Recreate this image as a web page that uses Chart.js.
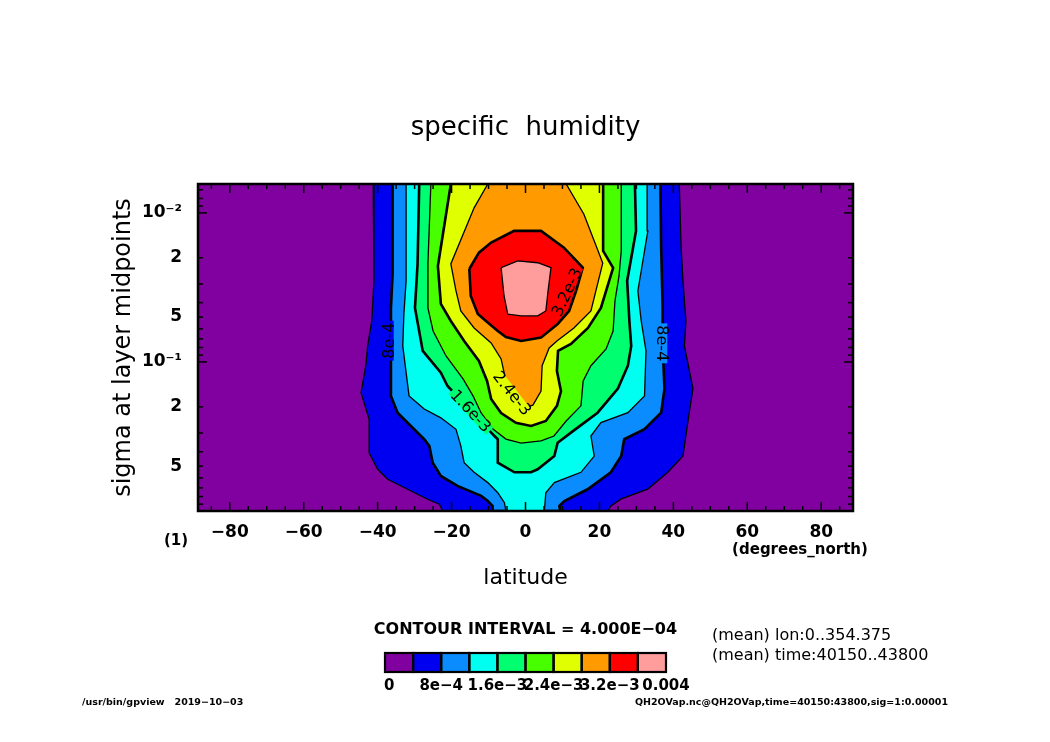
<!DOCTYPE html>
<html lang="en">
<head>
<meta charset="UTF-8">
<title>specific humidity</title>
<script src="https://cdn.jsdelivr.net/npm/chart.js@4.4.0/dist/chart.umd.min.js"></script>
<style>
    * { margin: 0; padding: 0; box-sizing: border-box; }
    body { background: #fff; }
    #wrap { width: 1050px; height: 742px; }
</style>
</head>
<body>
<div id="wrap"><canvas id="chart" width="1050" height="742"></canvas></div>
<script>
// contour levels (kg/kg) and shading, lowest first
const levels = [0, 4e-4, 8e-4, 1.2e-3, 1.6e-3, 2.0e-3, 2.4e-3, 2.8e-3, 3.2e-3, 3.6e-3, 4.0e-3];
const shades = ['#8000a0', '#0000f0', '#0a8cff', '#00fff0', '#00ff70', '#48ff00', '#e0ff00', '#ff9a00', '#ff0000', '#ff9c9c'];
const barLabels = ['0', '8e-4', '1.6e-3', '2.4e-3', '3.2e-3', '0.004'];

// axes
const latRange = [-88.6, 88.6];
const sigRange = [0.0064, 1.0];
const xTicks = [-80, -60, -40, -20, 0, 20, 40, 60, 80];
const yTicks = [0.01, 0.02, 0.05, 0.1, 0.2, 0.5];
const yTickLabels = ['10\u207B\u00B2', '2', '5', '10\u207B\u00B9', '2', '5'];

// contour 4e-4 (lat, sigma), left side top->bottom then right side bottom->top
const c1Lat = [-41.2, -41.0, -41.6, -42.7, -43.2, -44.5, -42.3, -42.3, -40.0, -37.3, -31.9, -26.5, -23.3, -22.4,
               22.3, 23.1, 25.9, 33.1, 38.5, 42.6, 43.9, 45.3, 43.0, 43.4, 42.6, 42.1, 41.6];
const c1Sig = [0.0064, 0.0286, 0.053, 0.078, 0.106, 0.161, 0.243, 0.407, 0.525, 0.612, 0.715, 0.834, 0.90, 1.0,
               1.0, 0.925, 0.83, 0.713, 0.55, 0.428, 0.255, 0.151, 0.078, 0.053, 0.0286, 0.0171, 0.0064];
// contour 8e-4
const c2Lat = [-35.95, -35.95, -36.4, -36.4, -36.4, -34.6, -31.0, -27.4, -26.0, -25.1, -22.9, -18.4, -12.0, -10.2, -8.9, -8.9,
               9.4, 9.15, 10.5, 16.8, 23.1, 25.9, 26.7, 32.2, 36.7, 37.6, 37.1, 37.1, 36.7, 36.5];
const c2Sig = [0.0064, 0.0256, 0.0434, 0.118, 0.169, 0.219, 0.269, 0.33, 0.366, 0.474, 0.582, 0.679, 0.792, 0.857, 0.925, 1.0,
               1.0, 0.925, 0.857, 0.715, 0.55, 0.428, 0.33, 0.283, 0.219, 0.151, 0.078, 0.043, 0.0171, 0.0064];
// contour 1.2e-3
const c3Lat = [-32.3, -32.3, -32.9, -33.2, -31.5, -27.4, -22.9, -18.8, -17.5, -16.6, -13.9, -10.2, -7.5, -5.7, -5.3,
               5.1, 5.5, 7.8, 15.0, 18.6, 17.7, 20.4, 27.7, 32.2, 32.6, 31.3, 30.4, 33.1, 32.9];
const c3Sig = [0.0064, 0.0286, 0.0477, 0.078, 0.169, 0.207, 0.237, 0.283, 0.366, 0.474, 0.55, 0.645, 0.754, 0.879, 1.0,
               1.0, 0.754, 0.645, 0.55, 0.428, 0.314, 0.255, 0.219, 0.169, 0.0843, 0.053, 0.0334, 0.0132, 0.0064];
// contour 1.6e-3
const c4Lat = [-28.75, -29.2, -29.9, -27.8, -22.9, -21.1, -8.4, -7.5, -7.5, -3.0, 1.5, 3.3, 7.8, 8.7, 12.3, 19.5, 25.0, 27.7, 28.6, 28.1, 27.5, 29.9, 29.6];
const c4Sig = [0.0064, 0.022, 0.0434, 0.0843, 0.118, 0.145, 0.314, 0.33, 0.474, 0.55, 0.55, 0.525, 0.428, 0.348, 0.298, 0.219, 0.151, 0.106, 0.078, 0.053, 0.0286, 0.0132, 0.0064];
// contour 2.0e-3
const c5Lat = [-25.6, -26.4, -26.4, -25.0, -21.5, -16.9, -14.2, -12.0, -8.8, -5.3, -1.2, 4.2, 7.7, 11.0, 15.0, 15.6, 17.7, 21.8, 23.7, 24.2, 25.3, 25.9, 25.9];
const c5Sig = [0.0064, 0.022, 0.0434, 0.062, 0.0912, 0.13, 0.169, 0.22, 0.282, 0.329, 0.35, 0.339, 0.314, 0.249, 0.197, 0.134, 0.106, 0.0818, 0.062, 0.039, 0.0265, 0.018, 0.0064];
// contour 2.4e-3
const c6Lat = [-20.2, -23.7, -22.9, -20.2, -16.6, -12.6, -10.4, -9.3, -6.6, -2.6, 1.5, 5.5, 8.5, 9.6, 8.5, 8.8, 12.3, 16.9, 20.4, 23.7, 21.0, 21.0];
const c6Sig = [0.0064, 0.0227, 0.0408, 0.0531, 0.0723, 0.0984, 0.134, 0.177, 0.22, 0.256, 0.269, 0.249, 0.197, 0.157, 0.115, 0.0843, 0.0757, 0.0592, 0.0434, 0.0234, 0.018, 0.0064];
// contour 2.8e-3
const c7Lat = [-10.2, -13.9, -20.2, -18.8, -17.5, -13.9, -9.3, -6.6, -5.3, -3.9, -1.2, 2.0, 4.2, 4.5, 6.4, 8.5, 13.1, 17.7, 20.9, 15.8, 11.0];
const c7Sig = [0.0064, 0.00925, 0.022, 0.0334, 0.0455, 0.0592, 0.0745, 0.0955, 0.134, 0.177, 0.206, 0.195, 0.157, 0.106, 0.0805, 0.0723, 0.0592, 0.0455, 0.0217, 0.0102, 0.0064];
// contour 3.2e-3 (closed)
const c8Lat = [-15.2, -12.6, -9.3, -3.1, 4.2, 10.4, 15.5, 13.7, 11.8, 8.7, 4.2, -1.2, -5.3, -7.5, -10.7, -12.9, -14.8, -15.2];
const c8Sig = [0.0238, 0.0185, 0.0158, 0.0132, 0.0132, 0.0171, 0.0233, 0.0334, 0.0455, 0.0556, 0.0687, 0.0723, 0.068, 0.062, 0.0531, 0.0477, 0.0361, 0.0238];
// contour 3.6e-3 (closed)
const c9Lat = [-6.6, -2.1, 3.3, 6.9, 6.1, 5.5, 3.3, -1.2, -4.8, -5.8, -6.6];
const c9Sig = [0.0233, 0.021, 0.0216, 0.0233, 0.0334, 0.0455, 0.0491, 0.0491, 0.0478, 0.0361, 0.0233];

const contours = [
    [c1Lat, c1Sig], [c2Lat, c2Sig], [c3Lat, c3Sig], [c4Lat, c4Sig], [c5Lat, c5Sig],
    [c6Lat, c6Sig], [c7Lat, c7Sig], [c8Lat, c8Sig], [c9Lat, c9Sig]
];

const FONT = '"DejaVu Sans", sans-serif';

// whole domain shaded with the lowest colour
const datasets = [{
    data: [
        {x: latRange[0], y: sigRange[0]}, {x: latRange[0], y: sigRange[1]},
        {x: latRange[1], y: sigRange[1]}, {x: latRange[1], y: sigRange[0]}
    ],
    showLine: true,
    fill: 'shape',
    backgroundColor: shades[0],
    borderWidth: 0,
    order: 0
}];

contours.forEach(([lat, sig], i) => {
    const k = i + 1;
    datasets.push({
        data: lat.map((v, j) => ({x: v, y: sig[j]})),
        showLine: true,
        fill: 'shape',
        backgroundColor: shades[k],
        borderColor: '#000',
        borderWidth: k % 2 === 0 ? 2.6 : 1.3,
        order: -k
    });
});

function tickLine(ctx, x1, y1, x2, y2) {
    ctx.beginPath();
    ctx.moveTo(x1, y1);
    ctx.lineTo(x2, y2);
    ctx.stroke();
}

function contourLabel(chart, lat, sig, text, angle, bg) {
    const {ctx, scales: {x, y}} = chart;
    const px = x.getPixelForValue(lat);
    const py = y.getPixelForValue(sig);
    ctx.save();
    ctx.translate(px, py);
    ctx.rotate(angle * Math.PI / 180);
    ctx.font = '16px ' + FONT;
    const w = ctx.measureText(text).width;
    ctx.fillStyle = bg;
    ctx.fillRect(-w / 2 - 2, -5, w + 4, 10);
    ctx.fillStyle = '#000';
    ctx.textAlign = 'center';
    ctx.textBaseline = 'middle';
    ctx.fillText(text, 0, 1);
    ctx.restore();
}

const decor = {
    id: 'decor',
    afterDatasetsDraw(chart) {
        const {ctx, chartArea: a, scales: {x, y}} = chart;
        ctx.save();

        // contour labels
        contourLabel(chart, -37.0, 0.072, '8e-4', -90, shades[1]);
        contourLabel(chart, 37.0, 0.075, '8e-4', 90, shades[2]);
        contourLabel(chart, -14.8, 0.213, '1.6e-3', 47, shades[4]);
        contourLabel(chart, -3.6, 0.162, '2.4e-3', 52, shades[6]);
        contourLabel(chart, 11.2, 0.034, '3.2e-3', -65, shades[8]);

        // inner tick marks
        ctx.strokeStyle = '#000';
        ctx.lineWidth = 1.5;
        for (let v = -85; v <= 85; v += 5) {
            const px = x.getPixelForValue(v);
            const len = v % 20 === 0 ? 9 : 5;
            tickLine(ctx, px, a.bottom, px, a.bottom - len);
            tickLine(ctx, px, a.top, px, a.top + len);
        }
        for (let d = 0.001; d < 1; d *= 10) {
            for (let m = 1; m <= 9; m++) {
                const v = d * m;
                if (v < sigRange[0] || v > sigRange[1]) continue;
                const py = y.getPixelForValue(v);
                const len = m === 1 ? 9 : 5;
                tickLine(ctx, a.left, py, a.left + len, py);
                tickLine(ctx, a.right, py, a.right - len, py);
            }
        }

        // frame
        ctx.lineWidth = 2.5;
        ctx.strokeRect(a.left, a.top, a.right - a.left, a.bottom - a.top);
        ctx.restore();
    },
    afterDraw(chart) {
        const {ctx, chartArea: a} = chart;
        const cx = (a.left + a.right) / 2;
        ctx.save();
        ctx.fillStyle = '#000';
        ctx.textBaseline = 'middle';

        ctx.textAlign = 'center';
        ctx.font = '26px ' + FONT;
        ctx.fillText('specific  humidity', cx, 128);

        ctx.font = '22px ' + FONT;
        ctx.fillText('latitude', cx, 578);

        ctx.save();
        ctx.translate(124, (a.top + a.bottom) / 2);
        ctx.rotate(-Math.PI / 2);
        ctx.font = '24px ' + FONT;
        ctx.fillText('sigma at layer midpoints', 0, 0);
        ctx.restore();

        ctx.font = 'bold 15px ' + FONT;
        ctx.fillText('(1)', 176, 541);
        ctx.fillText('(degrees_north)', 800, 550);

        ctx.font = 'bold 16px ' + FONT;
        ctx.fillText('CONTOUR INTERVAL = 4.000E\u221204', cx, 630);

        // colour bar
        const bw = 28.1, bx = cx - bw * 5, by = 653, bh = 19;
        shades.forEach((c, i) => {
            ctx.fillStyle = c;
            ctx.fillRect(bx + i * bw, by, bw, bh);
        });
        ctx.strokeStyle = '#000';
        ctx.lineWidth = 2.2;
        for (let i = 0; i < shades.length; i++) ctx.strokeRect(bx + i * bw, by, bw, bh);
        ctx.fillStyle = '#000';
        ctx.font = 'bold 15px ' + FONT;
        barLabels.forEach((t, i) => {
            ctx.textAlign = i === 0 ? 'left' : 'center';
            ctx.fillText(t.replace(/-/g, '\u2212'), bx + i * 2 * bw - (i === 0 ? 1 : 0), 686);
        });

        ctx.textAlign = 'left';
        ctx.font = '16px ' + FONT;
        ctx.fillText('(mean) lon:0..354.375', 712, 636);
        ctx.fillText('(mean) time:40150..43800', 712, 656);

        ctx.font = 'bold 9.5px ' + FONT;
        ctx.fillText('/usr/bin/gpview   2019\u221210\u221203', 82, 703);
        ctx.textAlign = 'right';
        ctx.fillText('QH2OVap.nc@QH2OVap,time=40150:43800,sig=1:0.00001', 948, 703);
        ctx.restore();
    }
};

new Chart(document.getElementById('chart'), {
    type: 'scatter',
    data: {datasets},
    options: {
        responsive: false,
        animation: false,
        layout: {padding: {left: 138, right: 197, top: 184, bottom: 181}},
        elements: {point: {radius: 0, hoverRadius: 0}, line: {tension: 0}},
        plugins: {legend: {display: false}, tooltip: {enabled: false}},
        scales: {
            x: {
                type: 'linear',
                min: latRange[0],
                max: latRange[1],
                grid: {display: false, drawTicks: false},
                border: {display: false},
                afterBuildTicks: s => { s.ticks = xTicks.map(v => ({value: v})); },
                afterFit: s => { s.height = 50; },
                ticks: {
                    autoSkip: false,
                    maxRotation: 0,
                    padding: 11,
                    color: '#000',
                    font: {family: FONT, size: 17, weight: 'bold'},
                    callback: v => String(v).replace('-', '\u2212')
                }
            },
            y: {
                type: 'logarithmic',
                reverse: true,
                min: sigRange[0],
                max: sigRange[1],
                grid: {display: false, drawTicks: false},
                border: {display: false},
                afterBuildTicks: s => { s.ticks = yTicks.map(v => ({value: v})); },
                afterFit: s => { s.width = 60; },
                ticks: {
                    autoSkip: false,
                    padding: 16,
                    color: '#000',
                    font: {family: FONT, size: 17, weight: 'bold'},
                    callback: (v, i) => yTickLabels[i]
                }
            }
        }
    },
    plugins: [decor]
});
</script>
</body>
</html>
